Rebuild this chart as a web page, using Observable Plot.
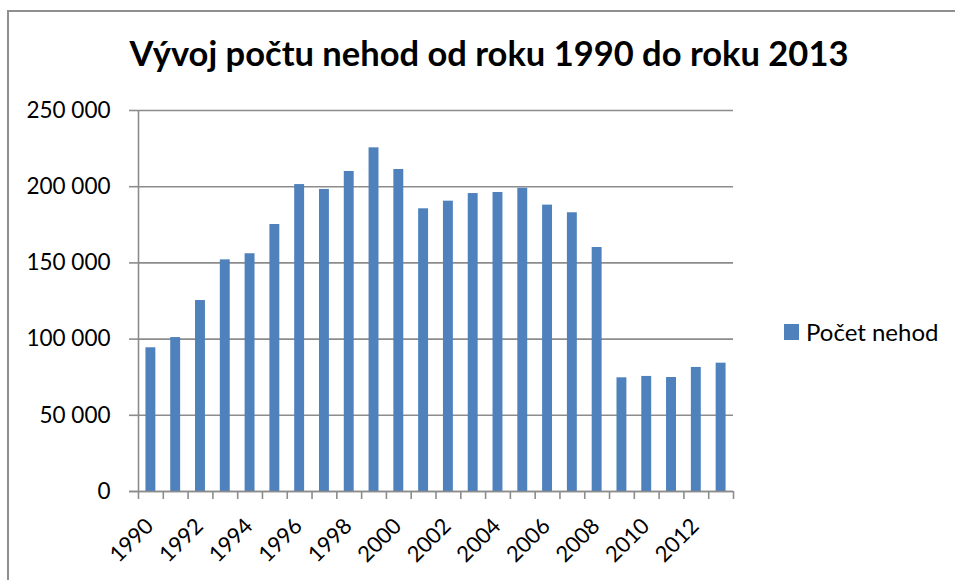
<!DOCTYPE html>
<html>
<head>
<meta charset="utf-8">
<script src="https://cdn.jsdelivr.net/npm/d3@7"></script>
<script src="https://cdn.jsdelivr.net/npm/@observablehq/plot@0.6"></script>
<style>
  html, body { margin: 0; padding: 0; background: #fff; overflow: hidden; }
  #wrap { position: relative; width: 955px; height: 580px; font-family: Lato, "Open Sans", sans-serif; }
  #border { position: absolute; left: 7px; top: 10px; width: 1000px; height: 700px; border: 2px solid #8f8f8f; box-sizing: border-box; }
  #chart { position: absolute; left: 0; top: 0; }
  #title { position: absolute; left: 0; width: 978px; top: 32px; text-align: center; font-weight: 700; font-size: 34.5px; color: #000; white-space: nowrap; }
  #legend { position: absolute; left: 784px; top: 317px; font-size: 24px; color: #000; display: flex; align-items: center; white-space: nowrap; }
  #legend .sw { width: 15px; height: 16px; background: #4F81BD; margin-right: 7px; }
</style>
</head>
<body>
<div id="wrap">
  <div id="border"></div>
  <div id="chart"></div>
  <div id="title">Vývoj počtu nehod od roku 1990 do roku 2013</div>
  <div id="legend"><div class="sw"></div><span>Počet nehod</span></div>
</div>
<script>
const years = [1990,1991,1992,1993,1994,1995,1996,1997,1998,1999,2000,2001,2002,2003,2004,2005,2006,2007,2008,2009,2010,2011,2012,2013];
const accidents = [94300,101000,125300,152000,156000,175200,201400,198200,210000,225500,211300,185500,190500,195500,196200,199000,187900,182900,160100,74600,75500,74800,81400,84200];
const yTicks = [0,50000,100000,150000,200000,250000];
const xLabelYears = [1990,1992,1994,1996,1998,2000,2002,2004,2006,2008,2010,2012];
const seriesName = "Počet nehod";

const data = years.map((y, i) => ({year: y, value: accidents[i]}));

const W = 955, H = 580, mL = 138, mR = 222, mT = 110, mB = 89;
const step = (W - mL - mR) / years.length;
const grey = "#8c8c8c";
const fmt = d => d3.format(",")(d).replace(/,/g, " ");

const chart = Plot.plot({
  width: W, height: H,
  marginLeft: mL, marginRight: mR, marginTop: mT, marginBottom: mB,
  style: {fontFamily: "Lato, 'Open Sans', sans-serif", background: "transparent", overflow: "visible"},
  x: {type: "band", domain: years, paddingInner: 0.6, paddingOuter: 0.3, align: 0.5, round: false},
  y: {domain: [0, 250000]},
  marks: [
    Plot.gridY(yTicks, {stroke: grey, strokeOpacity: 1, strokeWidth: 1.6}),
    Plot.barY(data, {x: "year", y: "value", fill: "#4F81BD"}),
    Plot.ruleX([years[0]], {dx: -step / 2, y1: 0, y2: 250000, stroke: grey, strokeWidth: 1.6}),
    Plot.axisY({ticks: yTicks, tickSize: 9, tickPadding: 19, tickFormat: fmt, label: null, fontSize: 22.5, stroke: grey, strokeWidth: 1.6, color: "#000"}),
    Plot.axisX({ticks: years, tickSize: 8, text: null, label: null, dx: -step / 2, stroke: grey, strokeWidth: 1.6}),
    Plot.axisX({ticks: [years[years.length - 1]], tickSize: 8, text: null, label: null, dx: step / 2, stroke: grey, strokeWidth: 1.6}),
    Plot.axisX({ticks: xLabelYears, tickSize: 0, tickPadding: 31, tickRotate: -45, textAnchor: "end", tickFormat: d => String(d), label: null, fontSize: 22, dx: -1, color: "#000"}),
    Plot.ruleY([0], {stroke: grey, strokeWidth: 1.6, insetLeft: -9})
  ]
});
document.getElementById("chart").appendChild(chart);
</script>
</body>
</html>
